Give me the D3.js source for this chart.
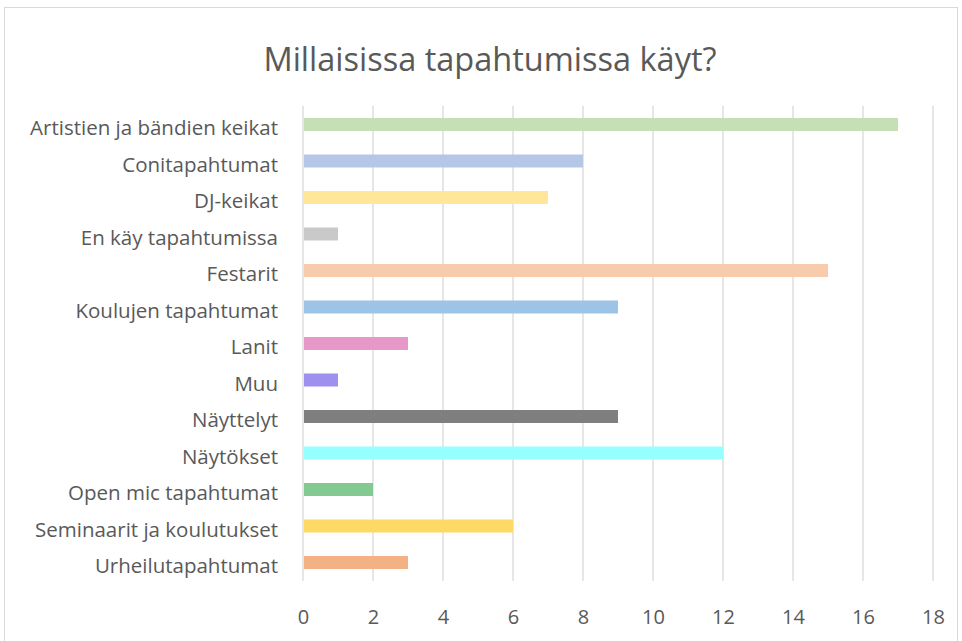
<!DOCTYPE html>
<html>
<head>
<meta charset="utf-8">
<script src="https://cdn.jsdelivr.net/npm/d3@7"></script>
<style>
  body { margin: 0; background: #fff; }
  svg { display: block; }
</style>
</head>
<body>
<div id="chart"></div>
<script>
// data
var categories = ["Artistien ja bändien keikat", "Conitapahtumat", "DJ-keikat", "En käy tapahtumissa",
  "Festarit", "Koulujen tapahtumat", "Lanit", "Muu", "Näyttelyt", "Näytökset",
  "Open mic tapahtumat", "Seminaarit ja koulutukset", "Urheilutapahtumat"];
var values = [17, 8, 7, 1, 15, 9, 3, 1, 9, 12, 2, 6, 3];
var barColors = ["#c5e0b4", "#b4c7e7", "#ffe699", "#c9c9c9", "#f8cbad", "#9dc3e6", "#e797c8",
  "#9d90ef", "#7f7f7f", "#96ffff", "#84c991", "#ffd966", "#f4b183"];
var tickValues = [0, 2, 4, 6, 8, 10, 12, 14, 16, 18];
var title = "Millaisissa tapahtumissa käyt?";

var width = 962, height = 641;
var font = "'Open Sans', sans-serif";
var textColor = "#595959";

var svg = d3.select("#chart").append("svg")
	.attr("width", width)
	.attr("height", height);

// chart frame
svg.append("rect")
	.attr("x", 4.5).attr("y", 7.5)
	.attr("width", 953).attr("height", 660)
	.attr("fill", "#fff")
	.attr("stroke", "#d9d9d9");

var x = d3.scaleLinear().domain([0, 18]).range([303, 933]);
var y = d3.scaleBand().domain(categories).range([106.25, 580.75]).paddingInner(0.644).paddingOuter(0.322);

// gridlines
svg.append("g").selectAll("line")
	.data(tickValues)
	.join("line")
	.attr("x1", function(d){ return x(d); })
	.attr("x2", function(d){ return x(d); })
	.attr("y1", 106).attr("y2", 581)
	.attr("stroke", "#d9d9d9")
	.attr("stroke-width", 1.3);

// bars
svg.append("g").selectAll("rect")
	.data(values)
	.join("rect")
	.attr("x", x(0) + 1)
	.attr("y", function(d, i){ return y(categories[i]); })
	.attr("width", function(d){ return x(d) - x(0) - 1; })
	.attr("height", y.bandwidth())
	.attr("fill", function(d, i){ return barColors[i]; });

// x axis labels
var xAxis = d3.axisBottom(x).tickValues(tickValues).tickSize(0).tickPadding(0);
var gx = svg.append("g").attr("transform", "translate(0,624)").call(xAxis);
gx.select(".domain").remove();
gx.selectAll("text")
	.attr("font-family", font)
	.attr("font-size", "20px")
	.attr("fill", textColor)
	.attr("dy", "0");

// category labels
var yAxis = d3.axisLeft(y).tickSize(0).tickPadding(0);
var gy = svg.append("g").attr("transform", "translate(278,0)").call(yAxis);
gy.select(".domain").remove();
gy.selectAll("text")
	.attr("font-family", font)
	.attr("font-size", "20.5px")
	.attr("fill", textColor)
	.attr("dy", "0.53em");

// title
svg.append("text")
	.attr("x", 490)
	.attr("y", 71)
	.attr("text-anchor", "middle")
	.attr("font-family", font)
	.attr("font-size", "32.5px")
	.attr("fill", textColor)
	.text(title);
</script>
</body>
</html>
